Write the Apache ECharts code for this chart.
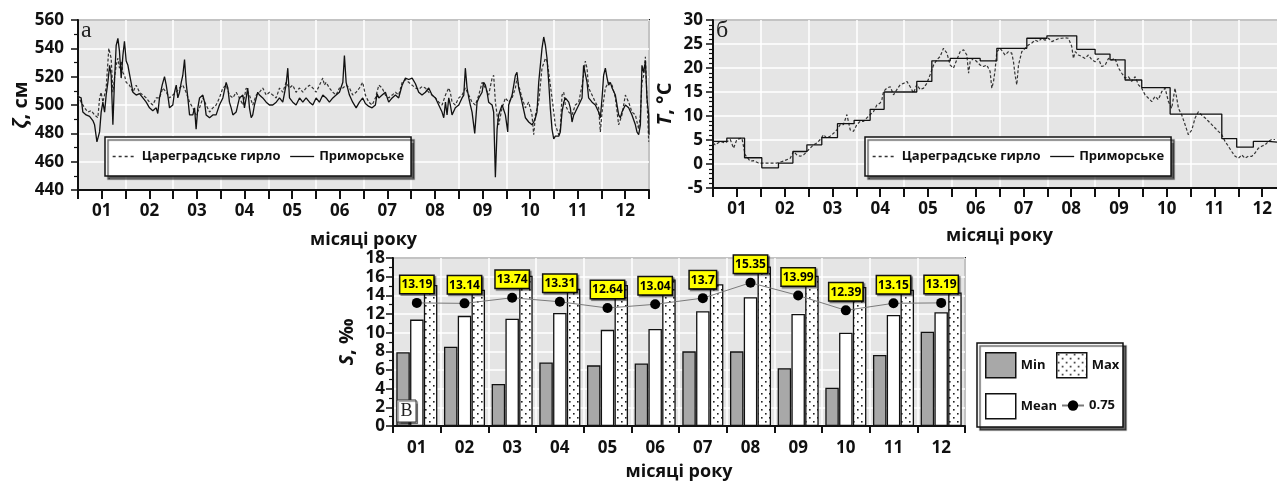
<!DOCTYPE html>
<html><head><meta charset="utf-8">
<script src="https://cdn.jsdelivr.net/npm/echarts@6/dist/echarts.min.js"></script>
<style>html,body{margin:0;padding:0;background:#fff}#c{width:1277px;height:481px}</style>
</head><body><div id="c"></div><script>
// ---------- data ----------
const months = ['01','02','03','04','05','06','07','08','09','10','11','12'];
const seriesNames = ['Цареградське гирло', 'Приморське'];

// panel а: sea level ζ, cm  [day of year, value]
const zetaTsarehrad = [[0,507],[2,502],[4.2,498],[6.3,495],[8.4,496],[10.6,493],[12.7,491],[13.8,505],[14.8,509],[15.9,502],[18,512],[19.7,540],[21.2,533],[22.3,509],[23.3,519],[24.4,528],[25.5,533],[26.5,526],[27.6,531],[28.7,523],[29.7,521],[30.8,516],[32.9,514],[35.1,509],[37.2,514],[39.3,509],[41.5,507],[43.6,505],[45.7,502],[47.8,500],[50,505],[52.1,505],[54.2,512],[56.4,509],[58.5,505],[60.6,507],[62.8,509],[64.9,512],[67,514],[69.1,509],[71.3,502],[73.4,498],[75.5,493],[77.7,498],[79.8,505],[81.9,500],[84.1,495],[86.2,498],[88.3,500],[90.4,505],[92.6,512],[94.7,514],[96.8,507],[99,505],[101.1,509],[103.2,505],[105.4,500],[107.5,512],[109.6,507],[111.7,500],[113.9,507],[116,509],[118.1,512],[120.3,507],[122.4,509],[124.5,507],[126.7,505],[128.8,512],[130.9,509],[133,516],[135.2,512],[137.3,514],[139.4,509],[141.6,512],[143.7,509],[145.8,512],[148,514],[150.1,512],[152.2,509],[156.5,519],[157.5,514],[158.6,516],[160.7,512],[162.9,509],[165,507],[167.1,512],[169.3,512],[171.4,514],[173.5,512],[175.6,507],[177.8,509],[179.9,512],[182,516],[183.7,507],[185.9,502],[188,500],[190.1,505],[192.3,514],[194.4,512],[196.5,507],[198.6,505],[200.8,507],[202.9,509],[205,507],[207.2,516],[209.3,518],[211.4,516],[213.6,514],[215.7,512],[217.8,511],[219.9,513],[222.1,512],[224.2,509],[226.3,507],[228.5,505],[230.6,502],[232.7,500],[234.9,507],[237,512],[238,509],[239.1,502],[241.2,500],[243.4,505],[245.5,507],[247.6,512],[249.8,507],[251.9,502],[254,500],[256.2,507],[258.3,516],[260.4,512],[262.5,507],[264.7,519],[265.7,521],[266.8,502],[267.9,493],[268.9,486],[271.1,498],[273.2,505],[275.3,502],[277.5,505],[279.6,512],[280.6,519],[281.7,514],[283.8,505],[286,498],[288.1,502],[290.2,493],[291.3,479],[292.4,493],[294.5,502],[296.6,526],[298.8,533],[299.8,531],[300.9,523],[303,505],[305.1,486],[307.3,479],[308.3,483],[309.4,507],[310.5,509],[311.5,500],[313.7,495],[315.8,493],[317.9,500],[320.1,502],[322.2,514],[323.2,521],[324.3,531],[325.4,526],[326.4,512],[328.6,507],[330.7,502],[332.8,498],[333.9,481],[335,495],[337.1,512],[339.2,516],[341.4,514],[343.5,505],[345.6,486],[347.7,493],[349.9,507],[352,502],[354.1,495],[356.3,493],[358.4,483],[359.5,493],[360.5,516],[361.6,521],[362.7,534],[363.7,505],[364.8,474]];
const zetaPrymorske = [[0,506],[2,505],[3.1,495],[5.2,493],[7.4,492],[9.5,489],[10.6,486],[12.1,474],[13.8,481],[14.8,495],[15.9,502],[17,495],[18,507],[19.1,516],[20.2,528],[21.2,521],[22.3,486],[23.3,516],[24.4,542],[25.5,547],[26.5,538],[27.6,519],[28.7,535],[29.7,545],[30.8,531],[31.9,528],[32.9,522],[34,521],[35.1,509],[37.2,507],[39.3,508],[41.5,505],[43.6,502],[45.7,498],[47.8,496],[50,498],[51,494],[52.1,505],[53.8,514],[55.3,520],[56.4,514],[57.4,507],[58.5,498],[60.6,500],[61.7,509],[62.8,514],[63.8,505],[64.9,509],[66,516],[67,521],[68.1,532],[69.1,516],[70.2,505],[71.3,493],[72.3,492],[73.4,493],[74.5,498],[75.5,483],[76.6,498],[77.7,505],[79.8,507],[80.9,502],[81.9,493],[84.1,491],[86.2,493],[88.3,493],[90.4,500],[92.6,505],[94.7,516],[95.8,512],[96.8,502],[97.9,498],[99,493],[101.1,495],[103.2,505],[105.4,507],[106.4,498],[107.5,505],[108.5,512],[109.6,498],[110.7,491],[111.7,493],[112.8,500],[114.9,509],[116,507],[118.1,505],[120.3,502],[122.4,500],[124.5,500],[126.7,502],[128.8,505],[130.9,502],[133,514],[134.1,526],[135.2,505],[137.3,502],[139.4,500],[141.6,505],[143.7,502],[145.8,505],[148,502],[150.1,500],[152.2,505],[154.3,502],[156.5,507],[158.6,505],[160.7,502],[162.9,505],[165,507],[167.1,509],[169.3,516],[170.3,535],[171.4,516],[173.5,507],[175.6,502],[177.8,498],[179.9,502],[182,505],[183.7,501],[185.9,499],[188,498],[190.1,500],[191.2,508],[192.3,505],[194.4,507],[196.5,509],[198.6,502],[200.8,505],[202.9,507],[205,505],[207.2,514],[209.3,519],[211.4,518],[213.6,519],[215.7,515],[217.8,509],[219.9,507],[222.1,509],[224.2,512],[226.3,507],[228.5,505],[230.6,500],[232.7,495],[233.8,491],[234.9,502],[235.9,493],[237,505],[238,500],[239.1,493],[241.2,498],[243.4,500],[245.5,505],[246.6,507],[247.6,526],[248.7,512],[249.8,505],[250.8,500],[251.9,495],[253.6,480],[255.1,502],[256.2,505],[258.3,509],[259.3,516],[260.4,514],[261.5,509],[262.5,502],[264.7,500],[265.7,495],[266.8,449],[267.9,483],[268.9,493],[271.1,500],[273.2,493],[274.7,481],[275.3,500],[277.5,507],[279.6,521],[280.6,523],[281.7,512],[282.8,507],[283.8,502],[286,491],[288.1,488],[290.2,486],[291.3,488],[292.4,491],[293.4,495],[294.5,516],[296.6,540],[297.7,548],[298.8,542],[299.8,533],[300.9,516],[301.9,498],[303,483],[304.1,476],[305.1,478],[307.3,478],[308.3,481],[309.4,495],[310.5,502],[311.5,505],[313.7,502],[314.7,498],[315.8,488],[316.9,493],[317.9,495],[320.1,500],[322.2,505],[323.2,528],[325.4,516],[326.4,505],[328.6,502],[330.7,500],[332.8,495],[333.9,491],[335,505],[336,521],[337.1,526],[338.2,519],[339.2,514],[340.3,516],[341.4,512],[343.5,507],[345.6,493],[346.7,491],[347.7,495],[349.9,500],[352,498],[354.1,493],[356.3,486],[357.3,481],[358.4,479],[359.5,486],[360.5,528],[361.6,523],[362.7,531],[363.7,505],[364.8,493],[365,479]];

// panel б: water temperature T, °C  [day of year, value]
const tempTsarehrad = [[0,4.4],[1.4,4.0],[4.6,4.7],[7.8,4.4],[11,5.1],[13.1,3.3],[15.2,5.1],[18.4,5.4],[20.5,1.9],[23.7,0.6],[25.8,0.7],[29,0.2],[32.2,0.2],[36.4,0.2],[40.7,0.2],[44.9,0.6],[49.2,1.2],[51.3,2.6],[53.4,1.9],[55.5,1.6],[57.7,1.9],[59.8,2.6],[61.9,3.3],[64,4.0],[66.2,4.4],[68.3,5.1],[70.4,6.1],[72.5,5.4],[74.6,5.8],[76.8,6.4],[78.9,7.1],[81,8.2],[83.1,8.2],[85.3,10.3],[86.3,10.6],[87.4,7.1],[89.5,6.8],[91.6,8.2],[93.8,8.9],[95.9,8.9],[98,9.6],[100.1,10.3],[102.2,10.9],[104.4,12.3],[106.5,12.7],[107.6,13.4],[108.6,15.1],[110.7,15.8],[112.9,16.1],[115,14.4],[117.1,15.5],[119.2,16.5],[121.4,16.8],[123.5,17.2],[125.6,16.1],[127.7,14.8],[129.8,16.5],[132,15.5],[134.1,15.8],[136.2,16.8],[138.3,18.6],[140.5,20.6],[142.6,21.7],[144.7,22.4],[146.8,24.1],[149,23.1],[151.1,20.6],[153.2,20.0],[155.3,21.7],[157.4,23.4],[159.6,23.8],[161.7,22.7],[162.8,18.9],[163.8,21.3],[165.9,22.0],[168.1,21.3],[170.2,20.6],[172.3,20.3],[174.4,20.6],[176.5,19.3],[177.6,15.8],[178.7,17.2],[179.7,19.6],[180.8,23.4],[182.9,24.1],[186.1,22.7],[188.2,23.4],[190.3,23.1],[191.4,21.3],[192.4,18.6],[193.5,16.5],[194.6,20.6],[196.7,23.4],[198.8,24.1],[200.9,24.8],[203.1,25.2],[205.2,25.8],[207.3,25.5],[209.4,26.2],[211.5,25.8],[213.7,26.2],[215.8,25.5],[217.9,25.8],[220,26.1],[222.2,26.2],[224.3,26.3],[226.4,26.2],[228.5,24.5],[229.6,22.0],[230.7,23.4],[232.8,22.7],[234.9,22.4],[237,22.0],[239.1,22.7],[241.3,21.7],[243.4,21.3],[245.5,22.0],[247.6,20.3],[249.8,20.6],[251.9,22.0],[254,21.7],[256.1,22.0],[258.3,20.0],[260.4,18.9],[262.5,17.9],[264.6,18.2],[266.7,17.2],[268.9,18.2],[271,16.5],[273.1,15.8],[275.2,14.4],[277.4,13.7],[279.5,13.0],[281.6,14.1],[283.7,13.4],[285.9,15.1],[288,15.8],[290.1,13.0],[292.2,11.6],[294.3,15.8],[295.4,13.7],[296.5,11.6],[298.6,10.2],[300.7,8.2],[302.8,6.1],[305,7.1],[307.1,9.6],[309.2,10.9],[311.3,10.2],[313.5,9.6],[315.6,8.9],[317.7,8.2],[319.8,7.5],[321.9,6.8],[324.1,6.1],[326.2,4.7],[328.3,3.7],[330.4,2.6],[332.6,1.6],[334.7,1.2],[336.8,1.9],[338.9,1.2],[341,1.6],[343.2,1.6],[345.3,2.3],[347.4,3.3],[349.5,3.7],[351.7,4.0],[353.8,4.7],[355.9,5.1],[358,5.1]];
const tempPrymorske = [[0,4.7],[8.8,5.4],[20.1,1.3],[31.1,-0.8],[41.7,0.2],[50.9,2.6],[59.8,4.0],[69.3,5.5],[79.3,8.4],[89.9,9.1],[100.1,11.4],[109,15.0],[129.8,17.2],[139.4,21.5],[151.1,22.0],[170.2,21.5],[180.8,24.1],[199.9,26.2],[212.7,26.7],[231.7,23.9],[243.4,22.9],[252.9,21.7],[262.5,17.5],[273.1,15.9],[291.2,10.4],[324.1,5.3],[333.6,3.5],[344.2,4.7],[353.8,4.4],[365,4.4]];

// panel в: salinity S, ‰ per month
const salMin  = [7.9, 8.5, 4.5, 6.8, 6.5, 6.7, 8.0, 8.0, 6.2, 4.1, 7.6, 10.1];
const salMean = [11.4, 11.8, 11.5, 12.1, 10.3, 10.4, 12.3, 13.8, 12.0, 10.0, 11.9, 12.2];
const salMax  = [15.1, 14.6, 16.1, 14.7, 15.1, 15.7, 15.2, 17.1, 16.1, 14.9, 14.6, 14.3];
const salQ75  = [13.19, 13.14, 13.74, 13.31, 12.64, 13.04, 13.7, 15.35, 13.99, 12.39, 13.15, 13.19];

// ---------- styling ----------
const FONT = "'Open Sans', 'DejaVu Sans', sans-serif";
const SERIF = "'Liberation Serif', 'DejaVu Serif', serif";
const PLOT_BG = '#e5e5e5';
const DAY_MAX = 365;

function dotPattern() {
  const c = document.createElement('canvas');
  c.width = 8; c.height = 8;
  const g = c.getContext('2d');
  g.fillStyle = '#fff'; g.fillRect(0, 0, 8, 8);
  g.fillStyle = '#222';
  g.fillRect(1, 1, 1.6, 1.6);
  g.fillRect(5, 5, 1.6, 1.6);
  return c;
}
const maxFill = { image: dotPattern(), repeat: 'repeat' };

const tickLabel = { fontFamily: FONT, fontSize: 17, fontWeight: 'bold', color: '#111' };
const nameRich = {
  i: { fontFamily: FONT, fontSize: 20, fontWeight: 'bold', fontStyle: 'italic', color: '#111' },
  n: { fontFamily: FONT, fontSize: 20, fontWeight: 'bold', color: '#111' }
};

function dayAxis(gridIndex) {
  return {
    type: 'value', gridIndex, min: 0, max: DAY_MAX, interval: DAY_MAX / 12,
    axisLine: { show: true, onZero: false, lineStyle: { color: '#111', width: 2 } },
    axisTick: { show: true, length: 9, lineStyle: { color: '#111', width: 2 } },
    minorTick: { show: true, splitNumber: 2, length: 9, lineStyle: { color: '#111', width: 2 } },
    axisLabel: { show: false },
    splitLine: { show: true, lineStyle: { color: '#fff', width: 1.5 } },
    position: 'bottom'
  };
}
function monthLabelAxis(gridIndex, gap) {
  return {
    type: 'category', gridIndex, data: months, boundaryGap: true, position: 'bottom',
    axisLine: { show: false }, axisTick: { show: false }, splitLine: { show: false },
    axisLabel: Object.assign({ margin: 13 }, tickLabel),
    name: 'місяці року', nameLocation: 'middle', nameGap: gap,
    nameTextStyle: { fontFamily: FONT, fontSize: 18, fontWeight: 'bold', color: '#111' }
  };
}
function valAxis(gridIndex, min, max, interval, minorSplit, nameText, nameGap, labelMargin) {
  return {
    type: 'value', gridIndex, min, max, interval,
    axisLine: { show: true, onZero: false, lineStyle: { color: '#111', width: 2 } },
    axisTick: { show: true, length: 7, lineStyle: { color: '#111', width: 1.5 } },
    minorTick: { show: true, splitNumber: minorSplit, length: 4, lineStyle: { color: '#111', width: 1.2 } },
    axisLabel: Object.assign({ margin: labelMargin }, tickLabel),
    splitLine: { show: true, lineStyle: { color: '#fff', width: 1.5 } },
    name: nameText, nameLocation: 'middle', nameRotate: 90, nameGap,
    nameTextStyle: { rich: nameRich }
  };
}
const lineLegendBase = {
  orient: 'horizontal', itemWidth: 24, itemHeight: 14, itemGap: 9,
  padding: [13, 7, 13, 7], backgroundColor: '#fff', borderColor: '#111', borderWidth: 1.5,
  shadowColor: 'rgba(0,0,0,0.6)', shadowBlur: 1, shadowOffsetX: 3, shadowOffsetY: 3,
  selectedMode: false,
  itemStyle: { color: 'rgba(0,0,0,0)', borderWidth: 0, opacity: 0 },
  textStyle: { fontFamily: FONT, fontSize: 13, fontWeight: 'bold', color: '#111' },
  data: [
    { name: seriesNames[0], lineStyle: { color: '#333', width: 1.3, type: [3, 3] } },
    { name: seriesNames[1], lineStyle: { color: '#111', width: 1.3, type: 'solid' } }
  ]
};
const barLegendText = { fontFamily: FONT, fontSize: 13, fontWeight: 'bold', color: '#111' };
const barLegendBase = { itemWidth: 30, itemHeight: 25, icon: 'rect', selectedMode: false, padding: 0, itemGap: 0,
  textStyle: barLegendText, itemStyle: { borderColor: '#111', borderWidth: 1.5 } };

const chart = echarts.init(document.getElementById('c'), null, { renderer: 'canvas' });
chart.setOption({
  animation: false,
  backgroundColor: '#fff',
  grid: [
    { left: 78, top: 20, width: 571, height: 170, outerBoundsMode: 'none', containLabel: false, show: true, backgroundColor: PLOT_BG, borderColor: '#111', borderWidth: 2 },
    { left: 713, top: 20, width: 573, height: 168, outerBoundsMode: 'none', containLabel: false, show: true, backgroundColor: PLOT_BG, borderColor: '#111', borderWidth: 2 },
    { left: 393, top: 258, width: 572, height: 168, outerBoundsMode: 'none', containLabel: false, show: true, backgroundColor: PLOT_BG, borderColor: '#111', borderWidth: 2 }
  ],
  xAxis: [
    dayAxis(0), monthLabelAxis(0, 41),
    dayAxis(1), monthLabelAxis(1, 39),
    {
      type: 'category', gridIndex: 2, data: months, position: 'bottom',
      axisLine: { lineStyle: { color: '#111', width: 2 } },
      axisTick: { show: true, alignWithLabel: false, length: 7, lineStyle: { color: '#111', width: 2 } },
      axisLabel: Object.assign({ margin: 14 }, tickLabel),
      splitLine: { show: true, lineStyle: { color: '#fff', width: 1.5 } },
      name: 'місяці року', nameLocation: 'middle', nameGap: 37,
      nameTextStyle: { fontFamily: FONT, fontSize: 18, fontWeight: 'bold', color: '#111' }
    }
  ],
  yAxis: [
    valAxis(0, 440, 560, 20, 2, '{i|ζ}{n|, см}', 46, 14),
    valAxis(1, -5, 30, 5, 5, '{i|T}{n|, °C}', 38, 10),
    valAxis(2, 0, 18, 2, 2, '{i|S}{n|, ‰}', 36, 8)
  ],
  legend: [
    Object.assign({ left: 105, top: 137 }, lineLegendBase),
    Object.assign({ left: 865, top: 137 }, lineLegendBase),
    Object.assign({ left: 985, top: 352, data: ['Min'] }, barLegendBase),
    Object.assign({ left: 1056, top: 352, data: ['Max'] }, barLegendBase),
    Object.assign({ left: 985, top: 393, data: ['Mean'] }, barLegendBase),
    { left: 1061, top: 399, data: ['0.75'], itemWidth: 22, itemHeight: 13, itemGap: 0, selectedMode: false, padding: 0, textStyle: barLegendText }
  ],
  graphic: [
    { type: 'rect', z: -1, shape: { x: 977, y: 343, width: 146, height: 84 },
      style: { fill: '#fff', stroke: '#111', lineWidth: 1.5, shadowColor: 'rgba(0,0,0,0.6)', shadowBlur: 1, shadowOffsetX: 3, shadowOffsetY: 3 } },
    { type: 'text', left: 81, top: 19, z: 10, style: { text: 'а', font: '24px ' + SERIF, fill: '#222' } },
    { type: 'text', left: 716, top: 19, z: 10, style: { text: 'б', font: '24px ' + SERIF, fill: '#222' } },
    { type: 'rect', z: 10, shape: { x: 397, y: 400, width: 19, height: 22 },
      style: { fill: '#fff', stroke: '#333', lineWidth: 1, shadowColor: 'rgba(0,0,0,0.4)', shadowBlur: 1, shadowOffsetX: 1.5, shadowOffsetY: 1.5 } },
    { type: 'text', x: 406.5, y: 411, z: 11, style: { text: 'В', font: '18px ' + SERIF, fill: '#222', align: 'center', verticalAlign: 'middle' } }
  ],
  series: [
    { name: seriesNames[0], type: 'line', xAxisIndex: 0, yAxisIndex: 0, data: zetaTsarehrad, symbol: 'none',
      lineStyle: { color: '#333', width: 1.2, type: [3, 2] }, itemStyle: { color: '#333' }, z: 3 },
    { name: seriesNames[1], type: 'line', xAxisIndex: 0, yAxisIndex: 0, data: zetaPrymorske, symbol: 'none',
      lineStyle: { color: '#111', width: 1.3 }, itemStyle: { color: '#111' }, z: 4 },
    { name: seriesNames[0], type: 'line', xAxisIndex: 2, yAxisIndex: 1, data: tempTsarehrad, symbol: 'none',
      lineStyle: { color: '#333', width: 1.2, type: [3, 2] }, itemStyle: { color: '#333' }, z: 3 },
    { name: seriesNames[1], type: 'line', xAxisIndex: 2, yAxisIndex: 1, data: tempPrymorske, symbol: 'none', step: 'end',
      lineStyle: { color: '#111', width: 1.3 }, itemStyle: { color: '#111' }, z: 4 },
    { name: 'Min', type: 'bar', xAxisIndex: 4, yAxisIndex: 2, data: salMin, barWidth: 13.5, barGap: '2%',
      itemStyle: { color: '#a8a8a8', borderColor: '#111', borderWidth: 1.3 } },
    { name: 'Mean', type: 'bar', xAxisIndex: 4, yAxisIndex: 2, data: salMean, barWidth: 13.5, barGap: '2%',
      itemStyle: { color: '#fff', borderColor: '#111', borderWidth: 1.3 } },
    { name: 'Max', type: 'bar', xAxisIndex: 4, yAxisIndex: 2, data: salMax, barWidth: 13.5, barGap: '2%',
      itemStyle: { color: maxFill, borderColor: '#111', borderWidth: 1.3 } },
    { name: '0.75', type: 'line', xAxisIndex: 4, yAxisIndex: 2, data: salQ75, symbol: 'circle', symbolSize: 10, z: 5,
      lineStyle: { color: '#7a7a7a', width: 1 }, itemStyle: { color: '#000' },
      label: { show: true, position: 'top', distance: 5, color: '#000', fontFamily: FONT, fontSize: 12, fontWeight: 'bold',
        backgroundColor: '#ffff00', borderColor: '#111', borderWidth: 1.5, padding: [3, 1, 2, 1],
        shadowColor: 'rgba(0,0,0,0.5)', shadowBlur: 1, shadowOffsetX: 1.5, shadowOffsetY: 1.5 } }
  ]
});
</script></body></html>
